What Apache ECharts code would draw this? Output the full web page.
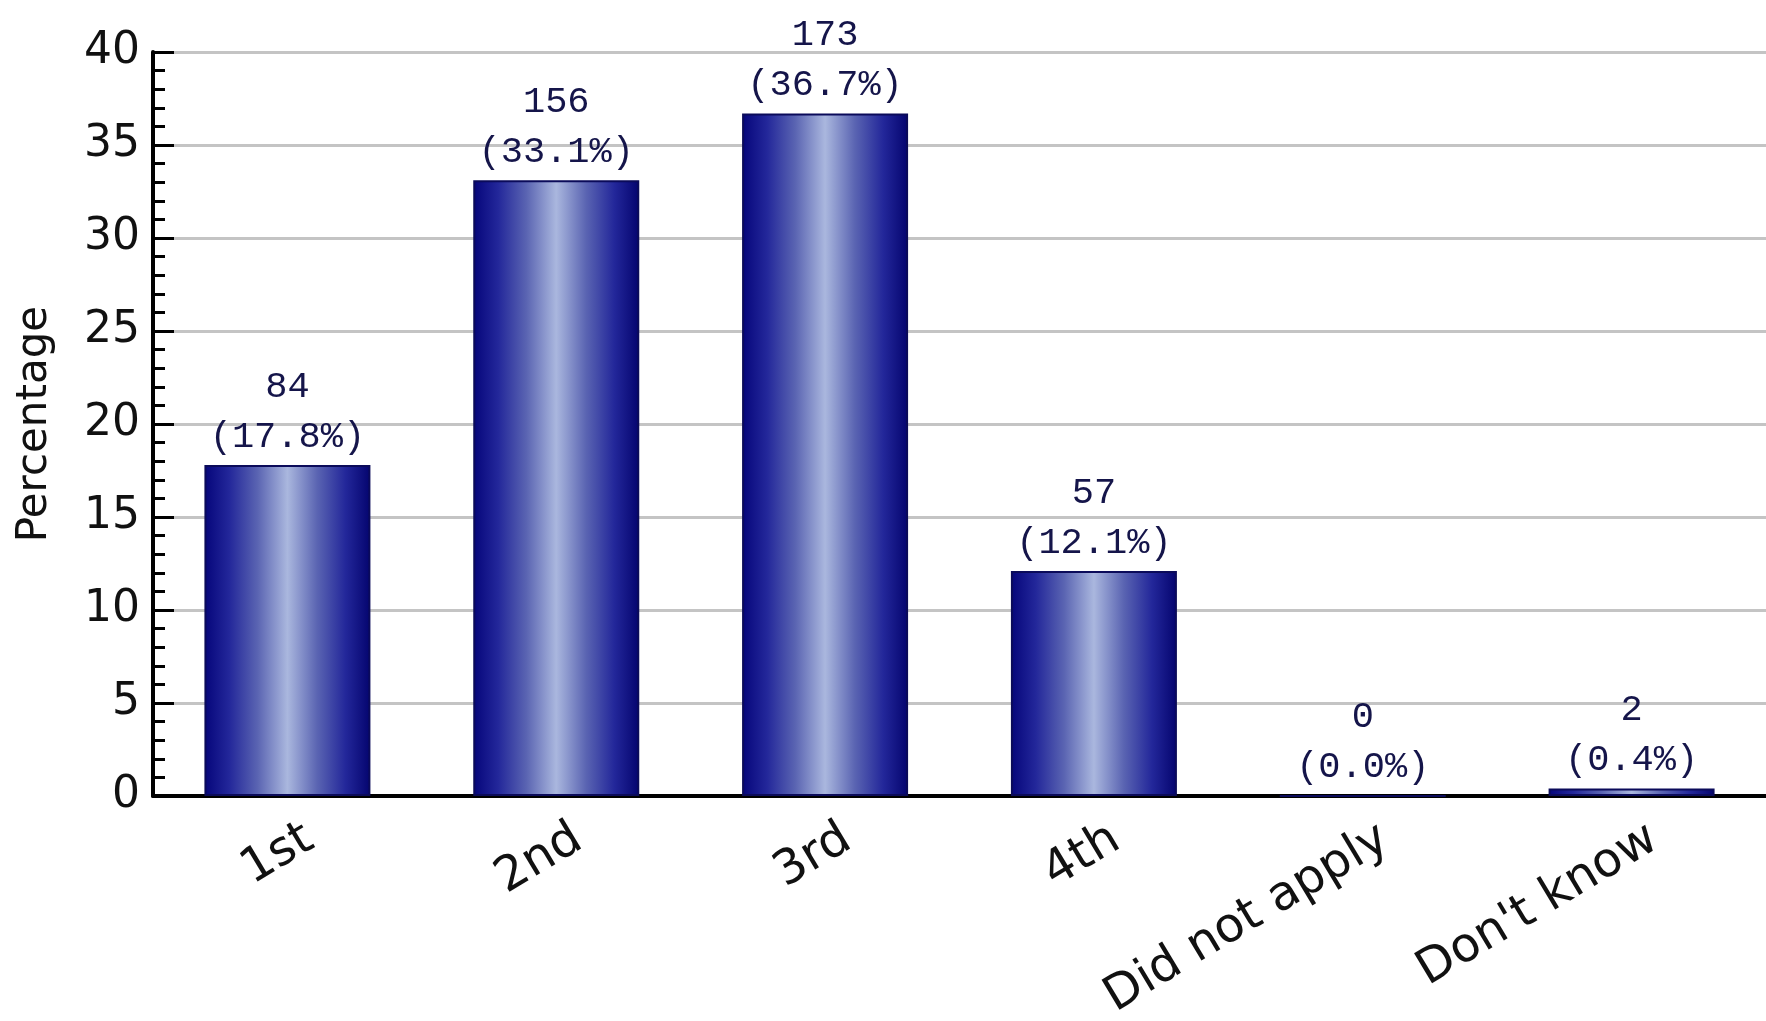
<!DOCTYPE html>
<html>
<head>
<meta charset="utf-8">
<script src="https://cdn.jsdelivr.net/npm/echarts@6/dist/echarts.min.js"></script>
<style>
html, body { margin:0; padding:0; background:#fff; }
#main { width:1766px; height:1021px; }
</style>
</head>
<body>
<div id="main"></div>
<script>
var categories = ['1st', '2nd', '3rd', '4th', 'Did not apply', "Don't know"];
var counts = [84, 156, 173, 57, 0, 2];
var percents = [17.8, 33.1, 36.7, 12.1, 0.0, 0.4];

var chart1 = echarts.init(document.getElementById('main'));
var option = {
    backgroundColor: '#fff',
    animation: false,
    grid: {
        left: 153,
        right: 0,
        top: 52,
        bottom: 225,
        containLabel: false,
        outerBoundsMode: 'none'
    },
    xAxis: {
        type: 'category',
        data: categories,
        axisLine: {
            lineStyle: { color: '#000', width: 4 }
        },
        axisTick: { show: false },
        axisLabel: {
            interval: 0,
            rotate: 31,
            margin: 53,
            padding: [0, -26, 0, 0],
            color: '#111',
            fontFamily: 'DejaVu Sans',
            fontSize: 48
        }
    },
    yAxis: {
        type: 'value',
        min: 0,
        max: 40,
        interval: 5,
        name: 'Percentage',
        nameLocation: 'middle',
        nameGap: 97,
        nameTextStyle: {
            color: '#111',
            fontFamily: 'DejaVu Sans',
            fontSize: 42
        },
        axisLine: {
            show: true,
            lineStyle: { color: '#000', width: 4 }
        },
        axisTick: {
            show: true,
            inside: true,
            length: 21,
            lineStyle: { color: '#000', width: 3 }
        },
        minorTick: {
            show: true,
            splitNumber: 5,
            length: 12,
            lineStyle: { color: '#000', width: 3 }
        },
        splitLine: {
            lineStyle: { color: '#c4c4c4', width: 3 }
        },
        axisLabel: {
            margin: 13,
            color: '#111',
            fontFamily: 'DejaVu Sans',
            fontSize: 44
        }
    },
    series: [
        {
            type: 'bar',
            data: percents,
            barWidth: 166,
            itemStyle: {
                borderColor: '#0b0b5a',
                borderWidth: 2,
                color: new echarts.graphic.LinearGradient(0, 0, 1, 0, [
                    { offset: 0, color: '#05057a' },
                    { offset: 0.15, color: '#23279a' },
                    { offset: 0.32, color: '#5a64b2' },
                    { offset: 0.5, color: '#aab7de' },
                    { offset: 0.68, color: '#5a64b2' },
                    { offset: 0.85, color: '#23279a' },
                    { offset: 1, color: '#04046e' }
                ])
            },
            label: {
                show: true,
                position: 'top',
                distance: 3,
                color: '#15154a',
                fontFamily: 'Liberation Mono',
                fontSize: 37,
                lineHeight: 50,
                formatter: function (p) {
                    return counts[p.dataIndex] + '\n(' + percents[p.dataIndex].toFixed(1) + '%)';
                }
            }
        }
    ]
};

chart1.setOption(option);
window.addEventListener('resize', function () {
    chart1.resize();
});
</script>
</body>
</html>
